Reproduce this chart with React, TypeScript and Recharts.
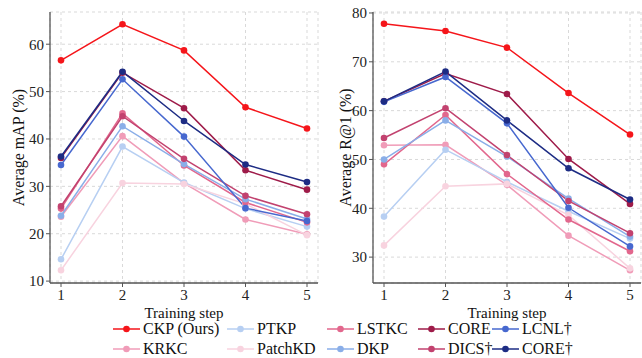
import { LineChart, Line, XAxis, YAxis, CartesianGrid } from 'recharts';

const steps = [1, 2, 3, 4, 5];

// legend order (column-wise, 5 columns x 2 rows)
const seriesNames = ['CKP (Ours)', 'KRKC', 'PTKP', 'PatchKD', 'LSTKC', 'DKP', 'CORE', 'DICS†', 'LCNL†', 'CORE†'];
const seriesColors = ['#f5151a', '#f09cb8', '#b7cff2', '#f8d3df', '#e2678d', '#8aaee8', '#9e1b49', '#c2426f', '#4768cf', '#1d2c84'];

// Average mAP (%)
const ckpMap = [56.6, 64.2, 58.7, 46.7, 42.2];
const krkcMap = [23.6, 40.6, 30.7, 23.0, 19.9];
const ptkpMap = [14.6, 38.4, 30.8, 25.3, 21.5];
const patchkdMap = [12.3, 30.7, 30.5, 26.3, 19.7];
const lstkcMap = [25.3, 45.4, 34.4, 26.6, 22.4];
const dkpMap = [23.8, 42.7, 34.7, 27.3, 23.1];
const coreMap = [36.0, 54.0, 46.5, 33.4, 29.3];
const dicsMap = [25.8, 44.8, 35.8, 28.0, 24.1];
const lcnlMap = [34.5, 52.6, 40.5, 25.4, 22.7];
const coreDagMap = [36.3, 54.2, 43.8, 34.6, 30.9];

// Average R@1 (%)
const ckpR1 = [77.8, 76.3, 72.9, 63.6, 55.1];
const krkcR1 = [52.9, 53.0, 44.8, 34.4, 27.3];
const ptkpR1 = [38.3, 52.0, 45.4, 39.4, 33.8];
const patchkdR1 = [32.4, 44.5, 45.0, 38.6, 27.7];
const lstkcR1 = [49.0, 59.1, 47.0, 37.7, 31.2];
const dkpR1 = [50.0, 58.0, 50.6, 42.0, 34.2];
const coreR1 = [61.9, 67.6, 63.4, 50.1, 40.9];
const dicsR1 = [54.4, 60.5, 50.9, 41.5, 34.9];
const lcnlR1 = [61.8, 66.9, 57.4, 40.1, 32.2];
const coreDagR1 = [61.9, 68.0, 58.0, 48.2, 41.8];

const mapSeries = [ckpMap, krkcMap, ptkpMap, patchkdMap, lstkcMap, dkpMap, coreMap, dicsMap, lcnlMap, coreDagMap];
const r1Series = [ckpR1, krkcR1, ptkpR1, patchkdR1, lstkcR1, dkpR1, coreR1, dicsR1, lcnlR1, coreDagR1];

const mapTicks = [10, 20, 30, 40, 50, 60];
const r1Ticks = [30, 40, 50, 60, 70, 80];

const FONT = '"Liberation Serif", "Times New Roman", serif';
const AXIS = '#555555';

function buildRows(series: number[][]) {
  return steps.map((s, i) => {
    const row: Record<string, number> = { step: s };
    series.forEach((vals, k) => {
      row['s' + k] = vals[i];
    });
    return row;
  });
}

interface PanelProps {
  series: number[][];
  ticks: number[];
  domain: [number, number];
  yLabel: string;
  width: number;
  marginLeft: number;
  marginRight: number;
  labelOffset: number;
}

function Panel({ series, ticks, domain, yLabel, width, marginLeft, marginRight, labelOffset }: PanelProps) {
  const rows = buildRows(series);
  return (
    <LineChart
      width={width}
      height={326}
      data={rows}
      margin={{ top: 12, right: marginRight, left: marginLeft, bottom: 0 }}
    >
      <CartesianGrid stroke="#d9d9d9" strokeDasharray="3 3" />
      <XAxis
        dataKey="step"
        padding={{ left: 11, right: 11 }}
        height={43}
        tick={{ fill: '#222', fontSize: 15 }}
        tickLine={{ stroke: AXIS }}
        axisLine={{ stroke: AXIS, strokeWidth: 1.3 }}
        tickSize={4}
        label={{ value: 'Training step', position: 'insideBottom', offset: 8, fill: '#111', fontSize: 15 }}
      />
      <YAxis
        type="number"
        domain={domain}
        ticks={ticks}
        allowDataOverflow
        width={40}
        tick={{ fill: '#222', fontSize: 15 }}
        tickLine={{ stroke: AXIS }}
        axisLine={{ stroke: AXIS, strokeWidth: 1.3 }}
        tickSize={4}
        label={{ value: yLabel, angle: -90, position: 'insideLeft', offset: labelOffset, fill: '#111', fontSize: 16, style: { textAnchor: 'middle' } }}
      />
      {/* box border on top and right */}
      <XAxis xAxisId="top" orientation="top" dataKey="step" tick={false} tickLine={false} height={0} axisLine={{ stroke: AXIS, strokeWidth: 1.3 }} />
      <YAxis yAxisId="right" orientation="right" tick={false} tickLine={false} width={0} axisLine={{ stroke: AXIS, strokeWidth: 1.3 }} />
      {series.map((_, k) => (
        <Line
          key={k}
          type="linear"
          dataKey={'s' + k}
          stroke={seriesColors[k]}
          strokeWidth={1.5}
          dot={{ r: 3.3, fill: seriesColors[k], stroke: seriesColors[k], strokeWidth: 0 }}
          isAnimationActive={false}
        />
      ))}
    </LineChart>
  );
}

const legendHandleX = [113, 227, 327, 418, 492];
const legendRowY = [329, 349];

function LegendBox() {
  return (
    <svg width={642} height={358} style={{ position: 'absolute', left: 0, top: 0, pointerEvents: 'none' }}>
      {seriesNames.map((name, k) => {
        const col = Math.floor(k / 2);
        const row = k % 2;
        const x = legendHandleX[col];
        const y = legendRowY[row];
        return (
          <g key={name}>
            <line x1={x} x2={x + 27} y1={y} y2={y} stroke={seriesColors[k]} strokeWidth={1.5} />
            <circle cx={x + 13.5} cy={y} r={3.3} fill={seriesColors[k]} />
            <text x={x + 30} y={y + 5} fontSize={16} fill="#111">
              {name}
            </text>
          </g>
        );
      })}
    </svg>
  );
}

export default function App() {
  return (
    <div style={{ position: 'absolute', left: 0, top: 0, width: 642, height: 358, background: '#fff', overflow: 'hidden', fontFamily: FONT }}>
      <style>{`svg text { font-family: "Liberation Serif", "Times New Roman", serif !important; }`}</style>
      <div style={{ position: 'absolute', left: 0, top: 0 }}>
        <Panel series={mapSeries} ticks={mapTicks} domain={[9.6, 66.8]} yLabel="Average mAP (%)" width={330} marginLeft={10} marginRight={12} labelOffset={8} />
      </div>
      <div style={{ position: 'absolute', left: 330, top: 0 }}>
        <Panel series={r1Series} ticks={r1Ticks} domain={[24.7, 80.2]} yLabel="Average R@1 (%)" width={312} marginLeft={3} marginRight={1} labelOffset={12} />
      </div>
      <LegendBox />
    </div>
  );
}
